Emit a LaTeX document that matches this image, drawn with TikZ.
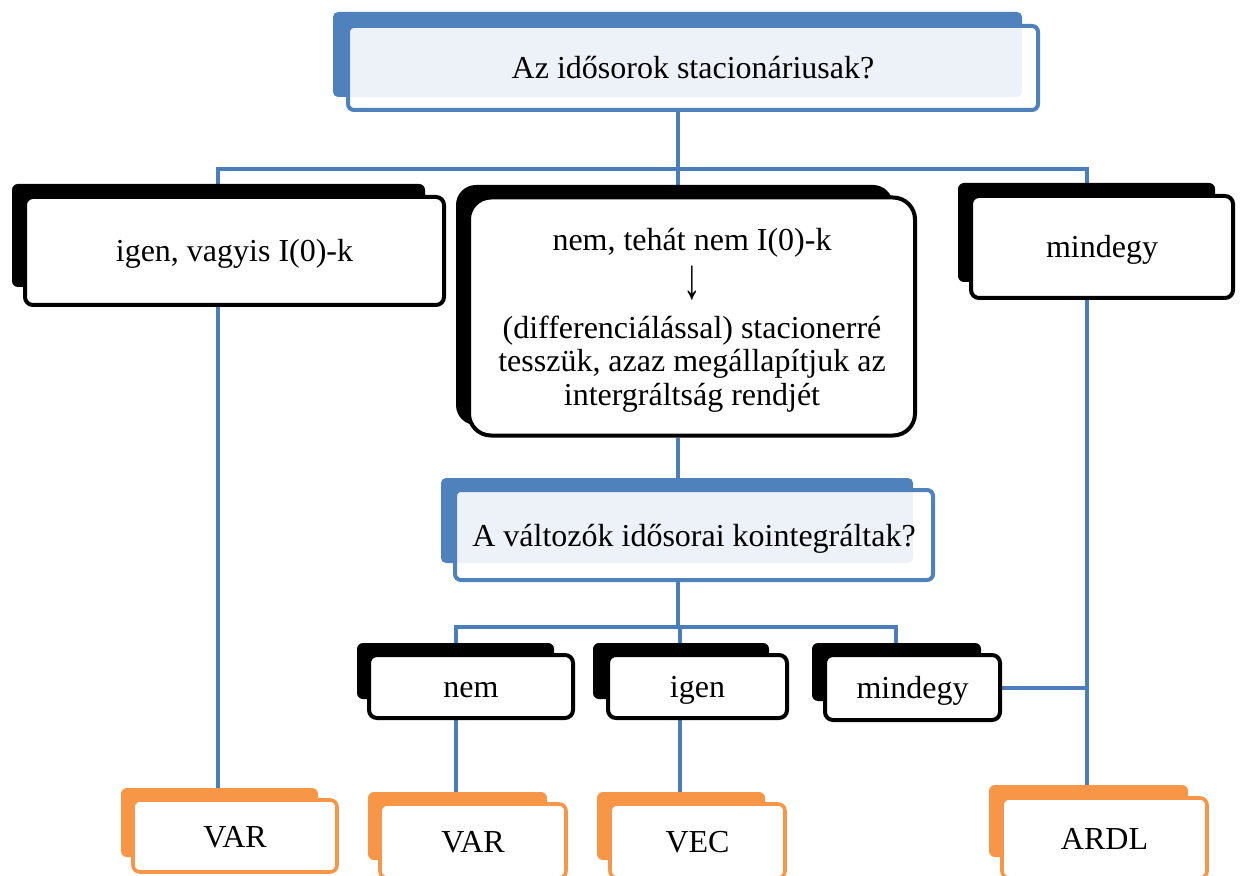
\documentclass[tikz,border=0pt]{standalone}
\usepackage{graphicx}
\usepackage{fontspec}
\setmainfont{Liberation Serif}
\usetikzlibrary{backgrounds}
\definecolor{linkblue}{HTML}{4A7EBB}
\definecolor{accblue}{HTML}{4F81BD}
\definecolor{accorange}{HTML}{F79646}
\tikzset{
  conn/.style={draw=linkblue, line width=2pt},
  boxsize/.style 2 args={minimum width=#1*0.5pt-2pt, minimum height=#2*0.5pt-2pt},
  card/.style={rectangle, rounded corners=4pt, line width=2pt, fill=white,
    inner sep=0pt, align=center, font=\fontsize{16}{16.8}\selectfont,
    text depth=0pt},
  oneline/.style={text height=11pt},
  blackcard/.style={card, draw=black},
  bluecard/.style={card, draw=accblue, fill opacity=0.9, text opacity=1, rounded corners=3pt},
  orangecard/.style={card, oneline, draw=accorange, line width=1.8pt, rounded corners=3.5pt},
  blackback/.style={fill=black, rounded corners=3pt},
  blueback/.style={fill=accblue, rounded corners=2.5pt},
  orangeback/.style={fill=accorange, rounded corners=3pt},
}
\begin{document}
\begin{tikzpicture}[x=0.5pt, y=-0.5pt]
\useasboundingbox (0,0) rectangle (1240,876);
\clip (0,0) rectangle (1240,876);

% x positions of the vertical links and y positions of the buses
\coordinate (xl) at (218,0);
\coordinate (xm) at (678,0);
\coordinate (xr) at (1087,0);
\coordinate (xa) at (456,0);
\coordinate (xb) at (680,0);
\coordinate (xc) at (896,0);
\coordinate (busA) at (0,169);
\coordinate (busB) at (0,627);

% offset backing plates
\fill[blueback]   (333,12)  rectangle (1022,97);
\fill[blackback]  (12,184)  rectangle (425,287);
\fill[blackback, rounded corners=10pt] (456,185) rectangle (893,425);
\fill[blackback]  (958,183) rectangle (1215,282);
\fill[blueback]   (441,478) rectangle (913,563);
\fill[blackback]  (357,643) rectangle (554,699);
\fill[blackback]  (593,643) rectangle (769,699);
\fill[blackback]  (812,643) rectangle (981,701);
\fill[orangeback] (121,788) rectangle (318,857);
\fill[orangeback] (368,792) rectangle (547,860);
\fill[orangeback] (597,792) rectangle (765,860);
\fill[orangeback] (989,785) rectangle (1188,857);

% cards
\node[bluecard, oneline, boxsize={694}{88}] (top) at (693,68) {Az idősorok stacionáriusak?};
\node[blackcard, oneline, boxsize={423}{112}] (yes0) at (234.5,251) {igen, vagyis I(0)-k};
\node[blackcard, rounded corners=11pt, boxsize={450}{242}] (no0) at (692,316.5)
  {nem, tehát nem I(0)-k\\[3.6pt]\scalebox{1.1}[1.8]{↓}\\[3pt](differenciálással) stacionerré\\tesszük, azaz megállapítjuk az\\intergráltság rendjét};
\node[blackcard, oneline, boxsize={266}{106}] (any0) at (1102,247) {mindegy};
\node[bluecard, oneline, boxsize={482}{94}] (coint) at (694,535) {A változók idősorai kointegráltak?};
\node[blackcard, oneline, boxsize={208}{67}] (cno) at (471,686.5) {nem};
\node[blackcard, oneline, boxsize={183}{67}] (cyes) at (697.5,686.5) {igen};
\node[blackcard, oneline, boxsize={179}{69}] (cany) at (912.5,687.5) {mindegy};
\node[orangecard, boxsize={208}{76}] (var1) at (235,836) {VAR};
\node[orangecard, boxsize={190}{78}] (var2) at (473,841) {VAR};
\node[orangecard, boxsize={179}{78}] (vec) at (697.5,841) {VEC};
\node[orangecard, boxsize={209}{84}] (ardl) at (1104.5,838) {ARDL};

% connectors
\begin{scope}[on background layer]
  \draw[conn] (top.south -| xm) -- (no0.north -| xm);
  \draw[conn] (yes0.north -| xl) -- (xl |- busA) -- (xr |- busA) -- (any0.north -| xr);
  \draw[conn] (yes0.south -| xl) -- (var1.north -| xl);
  \draw[conn] (any0.south -| xr) -- (ardl.north -| xr);
  \draw[conn] (no0.south -| xm) -- (coint.north -| xm);
  \draw[conn] (coint.south -| xm) -- (xm |- busB);
  \draw[conn] (cno.north -| xa) -- (xa |- busB) -- (xc |- busB) -- (cany.north -| xc);
  \draw[conn] (xb |- busB) -- (cyes.north -| xb);
  \draw[conn] (cno.south -| xa) -- (var2.north -| xa);
  \draw[conn] (cyes.south -| xb) -- (vec.north -| xb);
  \draw[conn] (cany.east) -- (cany.east -| xr);
\end{scope}
\end{tikzpicture}
\end{document}
